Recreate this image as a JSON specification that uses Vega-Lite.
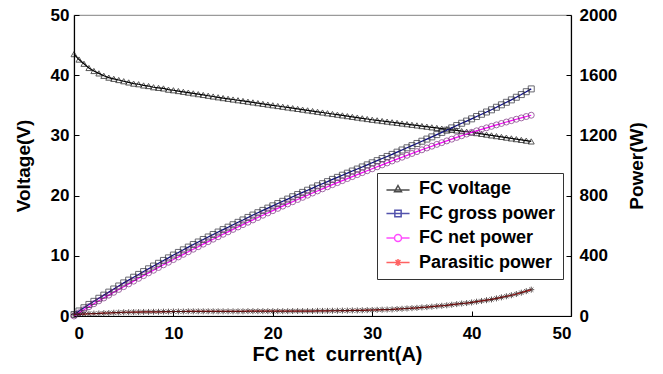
{
  "$schema": "https://vega.github.io/schema/vega-lite/v6.json",
  "autosize": {"type": "none"},
  "width": 497,
  "height": 301,
  "padding": {"left": 74, "top": 15, "right": 92, "bottom": 58},
  "background": "white",
  "config": {
    "view": {"stroke": "#9a9a9a", "strokeWidth": 1.2},
    "font": "Liberation Sans",
    "axis": {
      "labelFont": "Liberation Sans", "labelFontWeight": "bold", "labelFontSize": 17, "labelColor": "black",
      "titleFont": "Liberation Sans", "titleFontWeight": "bold", "titleFontSize": 19, "titleColor": "black",
      "domainColor": "black", "domainWidth": 1.2, "tickColor": "black", "tickSize": -5, "grid": false
    }
  },
  "data": {"values": [
    {"I":0,"V":43.5,"N":0,"P":10,"G":10},
    {"I":0.5,"V":42.6,"N":21.3,"P":12,"G":33.3},
    {"I":1,"V":41.9,"N":41.9,"P":13,"G":54.9},
    {"I":1.5,"V":41.2,"N":61.8,"P":15,"G":76.8},
    {"I":2,"V":40.7,"N":81.4,"P":16,"G":97.4},
    {"I":2.5,"V":40.3,"N":100.8,"P":17,"G":117.8},
    {"I":3,"V":39.9,"N":119.7,"P":19,"G":138.7},
    {"I":3.5,"V":39.6,"N":138.6,"P":20,"G":158.6},
    {"I":4,"V":39.4,"N":157.6,"P":22,"G":179.6},
    {"I":4.5,"V":39.2,"N":176.4,"P":23,"G":199.4},
    {"I":5,"V":39.0,"N":195.0,"P":25,"G":220.0},
    {"I":5.5,"V":38.8,"N":213.4,"P":25,"G":238.4},
    {"I":6,"V":38.6,"N":231.6,"P":26,"G":257.6},
    {"I":6.5,"V":38.5,"N":250.3,"P":26,"G":276.3},
    {"I":7,"V":38.3,"N":268.1,"P":27,"G":295.1},
    {"I":7.5,"V":38.2,"N":286.5,"P":27,"G":313.5},
    {"I":8,"V":38.0,"N":304.0,"P":28,"G":332.0},
    {"I":8.5,"V":37.9,"N":322.2,"P":28,"G":350.2},
    {"I":9,"V":37.8,"N":340.2,"P":29,"G":369.2},
    {"I":9.5,"V":37.6,"N":357.2,"P":29,"G":386.2},
    {"I":10,"V":37.5,"N":375.0,"P":30,"G":405.0},
    {"I":10.5,"V":37.37,"N":392.4,"P":30,"G":422.4},
    {"I":11,"V":37.24,"N":409.6,"P":30,"G":439.6},
    {"I":11.5,"V":37.11,"N":426.8,"P":31,"G":457.8},
    {"I":12,"V":36.98,"N":443.8,"P":31,"G":474.8},
    {"I":12.5,"V":36.85,"N":460.6,"P":31,"G":491.6},
    {"I":13,"V":36.72,"N":477.4,"P":31,"G":508.4},
    {"I":13.5,"V":36.59,"N":494.0,"P":31,"G":525.0},
    {"I":14,"V":36.46,"N":510.4,"P":31,"G":541.4},
    {"I":14.5,"V":36.33,"N":526.8,"P":31,"G":557.8},
    {"I":15,"V":36.2,"N":543.0,"P":31,"G":574.0},
    {"I":15.5,"V":36.08,"N":559.2,"P":31,"G":590.2},
    {"I":16,"V":35.96,"N":575.4,"P":31,"G":606.4},
    {"I":16.5,"V":35.84,"N":591.4,"P":31,"G":622.4},
    {"I":17,"V":35.72,"N":607.2,"P":31,"G":638.2},
    {"I":17.5,"V":35.6,"N":623.0,"P":32,"G":655.0},
    {"I":18,"V":35.48,"N":638.6,"P":32,"G":670.6},
    {"I":18.5,"V":35.36,"N":654.2,"P":32,"G":686.2},
    {"I":19,"V":35.24,"N":669.6,"P":32,"G":701.6},
    {"I":19.5,"V":35.12,"N":684.8,"P":32,"G":716.8},
    {"I":20,"V":35.0,"N":700.0,"P":32,"G":732.0},
    {"I":20.5,"V":34.88,"N":715.0,"P":32,"G":747.0},
    {"I":21,"V":34.76,"N":730.0,"P":32,"G":762.0},
    {"I":21.5,"V":34.64,"N":744.8,"P":32,"G":776.8},
    {"I":22,"V":34.52,"N":759.4,"P":33,"G":792.4},
    {"I":22.5,"V":34.4,"N":774.0,"P":33,"G":807.0},
    {"I":23,"V":34.28,"N":788.4,"P":33,"G":821.4},
    {"I":23.5,"V":34.16,"N":802.8,"P":33,"G":835.8},
    {"I":24,"V":34.04,"N":817.0,"P":33,"G":850.0},
    {"I":24.5,"V":33.92,"N":831.0,"P":34,"G":865.0},
    {"I":25,"V":33.8,"N":845.0,"P":34,"G":879.0},
    {"I":25.5,"V":33.68,"N":858.8,"P":34,"G":892.8},
    {"I":26,"V":33.56,"N":872.6,"P":35,"G":907.6},
    {"I":26.5,"V":33.44,"N":886.2,"P":35,"G":921.2},
    {"I":27,"V":33.32,"N":899.6,"P":36,"G":935.6},
    {"I":27.5,"V":33.2,"N":913.0,"P":36,"G":949.0},
    {"I":28,"V":33.08,"N":926.2,"P":37,"G":963.2},
    {"I":28.5,"V":32.96,"N":939.4,"P":37,"G":976.4},
    {"I":29,"V":32.84,"N":952.4,"P":38,"G":990.4},
    {"I":29.5,"V":32.72,"N":965.2,"P":39,"G":1004.2},
    {"I":30,"V":32.6,"N":978.0,"P":40,"G":1018.0},
    {"I":30.5,"V":32.5,"N":991.3,"P":41,"G":1032.3},
    {"I":31,"V":32.39,"N":1004.1,"P":42,"G":1046.1},
    {"I":31.5,"V":32.29,"N":1017.1,"P":43,"G":1060.1},
    {"I":32,"V":32.18,"N":1029.8,"P":44,"G":1073.8},
    {"I":32.5,"V":32.08,"N":1042.6,"P":46,"G":1088.6},
    {"I":33,"V":31.97,"N":1055.0,"P":48,"G":1103.0},
    {"I":33.5,"V":31.87,"N":1067.6,"P":50,"G":1117.6},
    {"I":34,"V":31.76,"N":1079.8,"P":52,"G":1131.8},
    {"I":34.5,"V":31.66,"N":1092.3,"P":54,"G":1146.3},
    {"I":35,"V":31.55,"N":1104.3,"P":57,"G":1161.3},
    {"I":35.5,"V":31.45,"N":1116.5,"P":59,"G":1175.5},
    {"I":36,"V":31.34,"N":1128.2,"P":62,"G":1190.2},
    {"I":36.5,"V":31.24,"N":1140.3,"P":65,"G":1205.3},
    {"I":37,"V":31.13,"N":1151.8,"P":68,"G":1219.8},
    {"I":37.5,"V":31.03,"N":1163.6,"P":71,"G":1234.6},
    {"I":38,"V":30.92,"N":1175.0,"P":75,"G":1250.0},
    {"I":38.5,"V":30.82,"N":1186.6,"P":79,"G":1265.6},
    {"I":39,"V":30.71,"N":1197.7,"P":83,"G":1280.7},
    {"I":39.5,"V":30.61,"N":1209.1,"P":86,"G":1295.1},
    {"I":40,"V":30.5,"N":1220.0,"P":90,"G":1310.0},
    {"I":40.5,"V":30.38,"N":1230.4,"P":95,"G":1325.4},
    {"I":41,"V":30.25,"N":1240.3,"P":100,"G":1340.3},
    {"I":41.5,"V":30.13,"N":1250.4,"P":105,"G":1355.4},
    {"I":42,"V":30.0,"N":1260.0,"P":110,"G":1370.0},
    {"I":42.5,"V":29.88,"N":1269.9,"P":117,"G":1386.9},
    {"I":43,"V":29.75,"N":1279.3,"P":124,"G":1403.3},
    {"I":43.5,"V":29.63,"N":1288.9,"P":131,"G":1419.9},
    {"I":44,"V":29.5,"N":1298.0,"P":138,"G":1436.0},
    {"I":44.5,"V":29.38,"N":1307.4,"P":146,"G":1453.4},
    {"I":45,"V":29.25,"N":1316.3,"P":155,"G":1471.3},
    {"I":45.5,"V":29.13,"N":1325.4,"P":165,"G":1490.4},
    {"I":46,"V":29.0,"N":1334.0,"P":175,"G":1509.0}
  ]},
  "layer": [
    {
      "transform": [{"fold": ["V"], "as": ["s", "val"]}],
      "encoding": {
        "x": {"field": "I", "type": "quantitative", "scale": {"domain": [0, 50], "nice": false, "zero": false},
              "axis": {"values": [0, 10, 20, 30, 40, 50], "title": "FC net\u00a0\u00a0current(A)", "titleFontSize": 20, "labelPadding": 14, "titlePadding": 3, "titleX": 263, "titleAlign": "center"}},
        "y": {"field": "val", "type": "quantitative", "scale": {"domain": [0, 50], "nice": false},
              "axis": {"orient": "left", "values": [0, 10, 20, 30, 40, 50], "title": "Voltage(V)", "labelPadding": 10, "titlePadding": 17}}
      },
      "layer": [
        {"mark": {"type": "line", "strokeWidth": 1.2},
         "encoding": {"color": {"field": "s", "type": "nominal", "scale": {"domain": ["V", "G", "N", "P"], "range": ["#000000", "#0a0a8a", "#ff00ff", "#ff2020"]}, "legend": null}}},
        {"mark": {"type": "point", "filled": false, "size": 36, "strokeWidth": 1},
         "encoding": {
           "stroke": {"field": "s", "type": "nominal", "scale": {"domain": ["V", "G", "N", "P"], "range": ["#111111", "#2a2a35", "#7a2a80", "#1a0a0a"]}, "legend": null},
           "shape": {"field": "s", "type": "nominal", "scale": {"domain": ["V", "G", "N", "P"], "range": ["triangle-up", "square", "circle", "M-1,0L1,0M0,-1L0,1M-0.7,-0.7L0.7,0.7M-0.7,0.7L0.7,-0.7"]}, "legend": null}
         }}
      ]
    },
    {
      "transform": [{"fold": ["G", "N", "P"], "as": ["s", "val"]}],
      "encoding": {
        "x": {"field": "I", "type": "quantitative", "scale": {"domain": [0, 50], "nice": false, "zero": false}},
        "y": {"field": "val", "type": "quantitative", "scale": {"domain": [0, 2000], "nice": false},
              "axis": {"orient": "right", "values": [0, 400, 800, 1200, 1600, 2000], "format": "d", "title": "Power(W)", "titleAngle": 270, "titleBaseline": "bottom", "labelPadding": 13, "titlePadding": 30}}
      },
      "layer": [
        {"mark": {"type": "line", "strokeWidth": 1.2},
         "encoding": {"color": {"field": "s", "type": "nominal", "scale": {"domain": ["V", "G", "N", "P"], "range": ["#000000", "#0a0a8a", "#ff00ff", "#ff2020"]}, "legend": null}}},
        {"mark": {"type": "point", "filled": false, "size": 36, "strokeWidth": 1},
         "encoding": {
           "stroke": {"field": "s", "type": "nominal", "scale": {"domain": ["V", "G", "N", "P"], "range": ["#111111", "#2a2a35", "#7a2a80", "#1a0a0a"]}, "legend": null},
           "shape": {"field": "s", "type": "nominal", "scale": {"domain": ["V", "G", "N", "P"], "range": ["triangle-up", "square", "circle", "M-1,0L1,0M0,-1L0,1M-0.7,-0.7L0.7,0.7M-0.7,0.7L0.7,-0.7"]}, "legend": null}
         }}
      ]
    },
    {
      "transform": [{"fold": ["V", "G", "N", "P"], "as": ["s", "val"]}, {"filter": "false"}],
      "mark": {"type": "point", "filled": false, "strokeWidth": 1.3},
      "encoding": {
        "color": {"field": "s", "type": "nominal", "scale": {"domain": ["V", "G", "N", "P"], "range": ["#000000", "#0a0a8a", "#ff00ff", "#ff2020"]},
                  "legend": {"orient": "none", "legendX": 303, "legendY": 158, "title": null, "strokeColor": "#333", "padding": 7, "symbolSize": 49, "symbolOffset": 5, "labelOffset": 12, "rowPadding": 6.5,
                             "labelFont": "Liberation Sans", "labelFontWeight": "bold", "labelFontSize": 18, "labelColor": "black",
                             "labelExpr": "{'V':'FC voltage','G':'FC gross power','N':'FC net power','P':'Parasitic power'}[datum.label]"}},
        "shape": {"field": "s", "type": "nominal", "scale": {"domain": ["V", "G", "N", "P"], "range": [
                    "M-3.3,0.3L3.3,0.3M0,-1L1,0.8L-1,0.8Z",
                    "M-3.3,0L3.3,0M-0.9,-0.9L0.9,-0.9L0.9,0.9L-0.9,0.9Z",
                    "M-3.3,0L-1,0M1,0L3.3,0M-1,0A1,1 0 1,0 1,0A1,1 0 1,0 -1,0Z",
                    "M-3.3,0L3.3,0M0,-1L0,1M-0.7,-0.7L0.7,0.7M-0.7,0.7L0.7,-0.7"]},
                  "legend": {"orient": "none", "legendX": 303, "legendY": 158, "title": null, "strokeColor": "#333", "padding": 7, "symbolSize": 49, "symbolOffset": 5, "labelOffset": 12, "rowPadding": 6.5,
                             "labelFont": "Liberation Sans", "labelFontWeight": "bold", "labelFontSize": 18, "labelColor": "black",
                             "labelExpr": "{'V':'FC voltage','G':'FC gross power','N':'FC net power','P':'Parasitic power'}[datum.label]"}}
      }
    }
  ],
  "resolve": {"scale": {"y": "independent", "color": "independent", "shape": "independent"}}
}
